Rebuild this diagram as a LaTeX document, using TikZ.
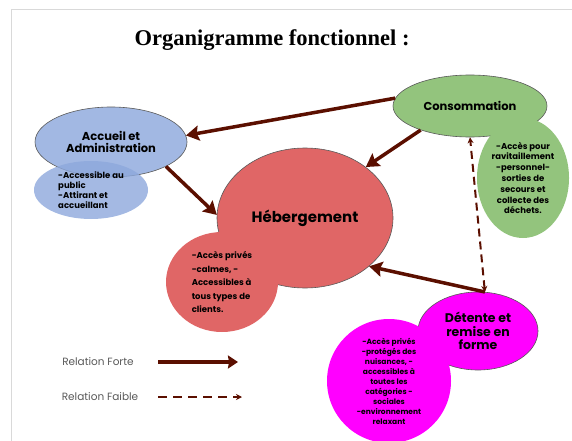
\documentclass[tikz,border=0pt]{standalone}
\usepackage{fontspec}
\setmainfont{Poppins}
\newfontfamily\titlefont{Liberation Serif}
\usetikzlibrary{arrows.meta,positioning,shapes.geometric}
\definecolor{accc}{HTML}{A2B8E3}
\definecolor{accsub}{HTML}{8DA8DC}
\definecolor{consc}{HTML}{93C47D}
\definecolor{hebc}{HTML}{E06666}
\definecolor{detc}{HTML}{FF00FF}
\definecolor{arrc}{HTML}{5B0F00}
\definecolor{legc}{HTML}{595959}
\tikzset{
  zone/.style={draw=gray!70!black, line width=0.6pt, ellipse, inner sep=0pt, align=center, font=\bfseries\fontsize{11.5}{12.5}\selectfont},
  note/.style={ellipse, inner sep=0pt, font=\bfseries\fontsize{8.5}{10}\selectfont},
  forte/.style={-{Stealth[length=13pt,width=15pt,inset=2pt]}, line width=3.5pt, arrc},
  faible/.style={{Stealth[length=6pt,width=6pt]}-{Stealth[length=6pt,width=6pt]}, line width=2pt, dash pattern=on 8pt off 5pt, arrc},
  leg/.style={font=\fontsize{10.5}{12}\selectfont, text=legc},
}

\begin{document}
\begin{tikzpicture}[x=1pt, y=-1pt]
  \useasboundingbox (0,0) rectangle (572,441);
  \draw[gray!30, line width=0.8pt] (572,9) -- (11,9) -- (11,441);
  \node[font=\titlefont\bfseries\fontsize{22.5}{26}\selectfont] (title) at (272,40) {Organigramme fonctionnel :};
  % zones
  \node[zone, fill=accc, minimum width=152pt, minimum height=70pt] (accueil) at (111,142) {Accueil et\\Administration};
  \node[note, fill=accsub, fill opacity=0.8, text opacity=1, minimum width=114pt, minimum height=58pt, align=left] (accueilnote) at (91,190)
    {-Accessible au\\public\\-Attirant et\\accueillant};
  \node[zone, fill=consc, minimum width=154pt, minimum height=62pt] (conso) at (470,106) {Consommation};
  \node[note, fill=consc, minimum width=92pt, minimum height=120pt, align=center, font=\bfseries\fontsize{8.5}{10.8}\selectfont] (consonote) at (523,178)
    {-Accès pour\\ravitaillement\\-personnel-\\sorties de\\secours et\\collecte des\\déchets.};
  \node[zone, fill=hebc, minimum width=176pt, minimum height=140pt, font=\bfseries\fontsize{15}{17}\selectfont] (heberg) at (305,218) {Hébergement};
  \node[note, fill=hebc, minimum width=112pt, minimum height=100pt, align=left, font=\bfseries\fontsize{8.5}{13.5}\selectfont] (hebergnote) at (222,282)
    {-Accès privés\\-calmes, -\\Accessibles à\\tous types de\\clients.};
  \node[zone, fill=detc, minimum width=120pt, minimum height=78pt, font=\bfseries\fontsize{12.5}{13.5}\selectfont] (detente) at (478,331) {Détente et\\remise en\\forme};
  \node[note, fill=detc, minimum width=124pt, minimum height=124pt, align=center, font=\bfseries\fontsize{7.5}{10}\selectfont] (detentenote) at (389,381)
    {-Accès privés\\-protégés des\\nuisances, -\\accessibles à\\toutes les\\catégories -\\sociales\\-environnement\\relaxant};
  % relations
  \draw[forte] (conso.174) -- (accueil.5);
  \draw[forte] (conso.206) -- (heberg.40);
  \draw[forte] (accueil.336) -- (heberg.178);
  \draw[forte] (detente.80) -- (heberg.323);
  \draw[faible] (detente.80) -- (conso.270);
  % legend
  \node[leg] (lforte) at (98,362) {Relation Forte};
  \node[leg] (lfaible) at (100,397) {Relation Faible};
  \coordinate (fa) at (158,362);
  \coordinate (fb) at (238,362);
  \coordinate (wa) at (158,397);
  \coordinate (wb) at (242,397);
  \draw[forte, -{Stealth[length=10pt,width=13pt,inset=1pt]}] (fa) -- (fb);
  \draw[arrc, line width=2pt, dash pattern=on 9pt off 6pt, -{Stealth[length=6pt,width=6pt]}] (wa) -- (wb);
\end{tikzpicture}
\end{document}
